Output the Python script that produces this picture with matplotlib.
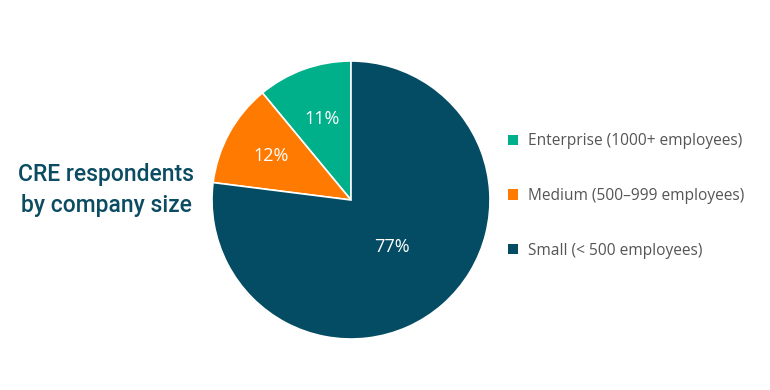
import matplotlib.pyplot as plt
import numpy as np

categories = ["Enterprise (1000+ employees)", "Medium (500\u2013999 employees)", "Small (< 500 employees)"]
values = [11, 12, 77]
colors = ["#00B08A", "#FF7A00", "#044C64"]
label_dist = [0.62, 0.66, 0.45]
title = "CRE respondents\nby company size"

W, H = 770, 390
fig = plt.figure(figsize=(W/100, H/100), dpi=100)
cx, cy, r = 351, 200, 139
ax = fig.add_axes([(cx - r)/W, (H - cy - r)/H, 2*r/W, 2*r/H])
wedges, _ = ax.pie(values, colors=colors, startangle=90, counterclock=True,
                   wedgeprops=dict(edgecolor="white", linewidth=1.2), radius=1)
ax.set_xlim(-1, 1); ax.set_ylim(-1, 1)
ax.set_aspect("equal")

total = sum(values)
start = 90.0
for v, d in zip(values, label_dist):
    ang = np.deg2rad(start + 360 * v / total / 2)
    ax.text(d*np.cos(ang), d*np.sin(ang), f"{v}%", color="white", ha="center", va="center",
            fontsize=13, family=["Open Sans", "DejaVu Sans"])
    start += 360 * v / total

fig.text(106/W, 1 - 190/H, title, ha="center", va="center", fontsize=16.5,
         color="#0B4C63", family=["Roboto", "DejaVu Sans"], weight="medium", linespacing=1.4)

leg = fig.legend(wedges, categories, loc="center left", bbox_to_anchor=(494/W, 1 - 196/H),
                 frameon=False, handlelength=0.62, handleheight=0.62, handletextpad=0.68,
                 labelspacing=2.5, prop=dict(family=["Open Sans", "DejaVu Sans"], size=11.2))
for t in leg.get_texts():
    t.set_color("#555555")
for h in leg.legend_handles:
    h.set_edgecolor("none")

fig.savefig("out.png", dpi=100, facecolor="white")
